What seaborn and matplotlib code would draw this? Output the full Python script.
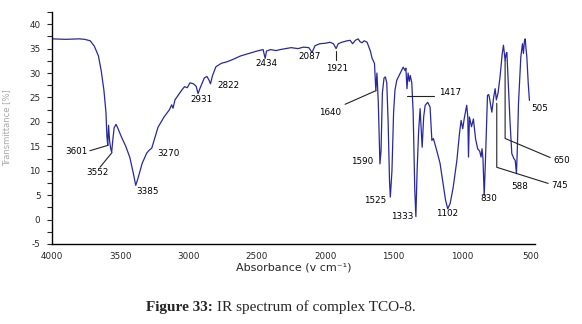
import matplotlib
matplotlib.use("Agg")
import matplotlib.pyplot as plt
import seaborn as sns
import pandas as pd
from matplotlib.ticker import MultipleLocator

# ---- data ----
wavenumber = [4000, 3900, 3800, 3760, 3720, 3690, 3660, 3640, 3620, 3605, 3598, 3592,
              3586, 3578, 3570, 3563, 3556, 3545, 3531, 3515, 3490, 3460, 3430, 3405,
              3387, 3370, 3340, 3307, 3285, 3270, 3250, 3224, 3180, 3140, 3124, 3114,
              3100, 3063, 3048, 3030, 3010, 2990, 2965, 2945, 2931, 2915, 2885, 2866,
              2850, 2840, 2825, 2800, 2760, 2720, 2675, 2620, 2560, 2500, 2455, 2440,
              2430, 2400, 2360, 2330, 2290, 2250, 2200, 2160, 2120, 2097, 2075, 2040,
              2000, 1965, 1940, 1921, 1905, 1880, 1840, 1818, 1800, 1780, 1760, 1745,
              1731, 1715, 1694, 1670, 1657, 1640, 1630, 1622, 1612, 1600, 1592, 1582,
              1570, 1560, 1550, 1540, 1530, 1524, 1512, 1500, 1490, 1477, 1453, 1430,
              1416, 1410, 1402, 1394, 1385, 1378, 1367, 1357, 1345, 1337, 1328, 1317,
              1306, 1291, 1280, 1269, 1250, 1233, 1220, 1209, 1184, 1160, 1138, 1120,
              1104, 1086, 1064, 1037, 1018, 1006, 994, 983, 965, 957, 952, 945,
              930, 916, 900, 885, 870, 860, 853, 846, 837, 828, 813, 805,
              799, 781, 768, 757, 748, 735, 720, 705, 696, 688, 684, 676,
              671, 660, 648, 635, 620, 610, 601, 595, 586, 569, 557, 550,
              543, 537, 531, 525, 515, 506]
transmittance = [37.0, 36.9, 37.0, 36.9, 36.6, 35.5, 33.5, 30.5, 26.5, 22.0, 17.0, 15.2,
                 19.3, 16.0, 14.5, 13.8, 16.0, 18.8, 19.5, 18.5, 16.8, 15.0, 12.7, 9.5,
                 7.0, 8.5, 11.5, 13.6, 14.3, 14.6, 16.5, 18.9, 21.0, 22.5, 23.5, 22.8,
                 24.5, 26.0, 26.6, 27.2, 27.0, 28.0, 27.8, 27.3, 25.8, 27.0, 29.0, 29.3,
                 28.5, 27.8, 29.5, 31.3, 32.0, 32.3, 32.8, 33.5, 34.0, 34.5, 34.8, 33.0,
                 34.5, 34.8, 34.6, 34.8, 35.0, 35.2, 35.0, 35.3, 35.2, 34.2, 35.6, 36.0,
                 36.1, 36.3, 36.0, 35.0, 36.0, 36.3, 36.6, 36.7, 36.0, 36.7, 37.0, 36.4,
                 36.2, 36.6, 36.3, 34.5, 33.0, 32.0, 26.4, 30.0, 24.0, 11.4, 14.0, 26.0,
                 29.0, 29.2, 28.0, 20.0, 8.0, 4.6, 10.0, 22.0, 26.5, 28.5, 29.9, 31.2,
                 30.5, 31.0, 26.8, 30.0, 28.3, 29.5, 28.0, 22.0, 6.0, 0.6, 10.0, 18.0,
                 22.7, 14.8, 21.0, 23.4, 24.0, 23.0, 16.2, 16.6, 14.1, 11.5, 7.4, 4.0,
                 2.2, 3.3, 6.6, 12.1, 17.6, 20.3, 18.6, 20.7, 23.4, 21.0, 12.8, 21.0,
                 19.0, 20.6, 16.5, 14.5, 14.0, 12.8, 14.5, 12.5, 4.9, 12.0, 25.4, 25.6,
                 25.0, 22.0, 25.0, 26.8, 24.5, 26.0, 29.5, 34.0, 35.7, 33.5, 32.6, 34.0,
                 34.2, 27.2, 20.0, 13.5, 12.5, 12.1, 9.4, 14.0, 23.8, 33.3, 36.0, 34.0,
                 36.5, 37.0, 35.0, 33.3, 28.0, 24.4]

peak_labels = ["3601", "3552", "3385", "3270", "2931", "2822", "2434", "2087", "1921",
               "1640", "1417", "505", "1590", "1525", "1333", "1102", "830", "588",
               "745", "650"]
y_ticks = [-5, 0, 5, 10, 15, 20, 25, 30, 35, 40]
x_ticks = [4000, 3500, 3000, 2500, 2000, 1500, 1000, 500]

df = pd.DataFrame({"wavenumber": wavenumber, "transmittance": transmittance})

sns.set_style("ticks")
plt.rcParams["font.family"] = ["DejaVu Sans"]

fig = plt.figure(figsize=(5.82, 3.24), dpi=100)
ax = fig.add_axes([0.0893, 0.247, 0.830, 0.716])

sns.lineplot(data=df, x="wavenumber", y="transmittance", sort=False, estimator=None,
             color="#2828a0", linewidth=0.9, ax=ax)

ax.set_xlim(4000, 465)
ax.set_ylim(-5, 42.5)
ax.set_xticks(x_ticks)
ax.set_xticklabels([str(t) for t in x_ticks])
ax.set_yticks(y_ticks)
ax.set_yticklabels([str(t) for t in y_ticks])
ax.yaxis.set_minor_locator(MultipleLocator(2.5))
ax.tick_params(axis="y", which="both", direction="out", length=3.3, width=0.8,
               labelsize=6.3, pad=5)
ax.tick_params(axis="x", which="both", length=0, labelsize=6.3, pad=6)
for s in ["top", "right"]:
    ax.spines[s].set_visible(False)
for s in ["left", "bottom"]:
    ax.spines[s].set_linewidth(1.0)
    ax.spines[s].set_color("black")

ax.set_xlabel("Absorbance (v cm\u207b\u00b9)", fontsize=8, labelpad=1)
ax.set_ylabel("Transmittance [%]", fontsize=6, color="#a8a8a8", labelpad=13)

# annotation text positions (data coords) and optional leader lines
txt_pos = [(3824, 13.9), (3667, 9.6), (3297, 5.7), (3147, 13.5), (2906, 24.6),
           (2708, 27.5), (2430, 32.0), (2115, 33.4), (1914, 30.9), (1965, 21.9),
           (1083, 26.0), (431, 22.8), (1731, 11.9), (1635, 3.9), (1438, 0.6),
           (1108, 1.2), (805, 4.3), (574, 6.8), (288, 7.0), (270, 12.1)]
for lab, (xx, yy) in zip(peak_labels, txt_pos):
    ax.text(xx, yy, lab, fontsize=6.3, ha="center", va="center", clip_on=False,
            color="black")

leaders = [
    [(3722, 14.1), (3590, 15.2)],
    [(3649, 10.7), (3561, 13.7)],
    [(1921, 34.6), (1921, 32.6)],
    [(1855, 23.6), (1628, 26.4)],
    [(1401, 25.4), (1204, 25.4)],
    [(745, 23.8), (745, 10.7), (369, 7.4)],
    [(684, 32.6), (684, 16.6), (354, 12.7)],
]
for seg in leaders:
    xs = [p[0] for p in seg]
    ys = [p[1] for p in seg]
    ax.plot(xs, ys, color="#222222", linewidth=0.8, clip_on=False)

fig.text(0.366, 0.052, "Figure 33:", fontsize=11, fontweight="bold",
         family="Liberation Serif", ha="right", va="center")
fig.text(0.366, 0.052, " IR spectrum of complex TCO-8.", fontsize=11,
         family="Liberation Serif", ha="left", va="center")

fig.savefig("out.png", dpi=100)
